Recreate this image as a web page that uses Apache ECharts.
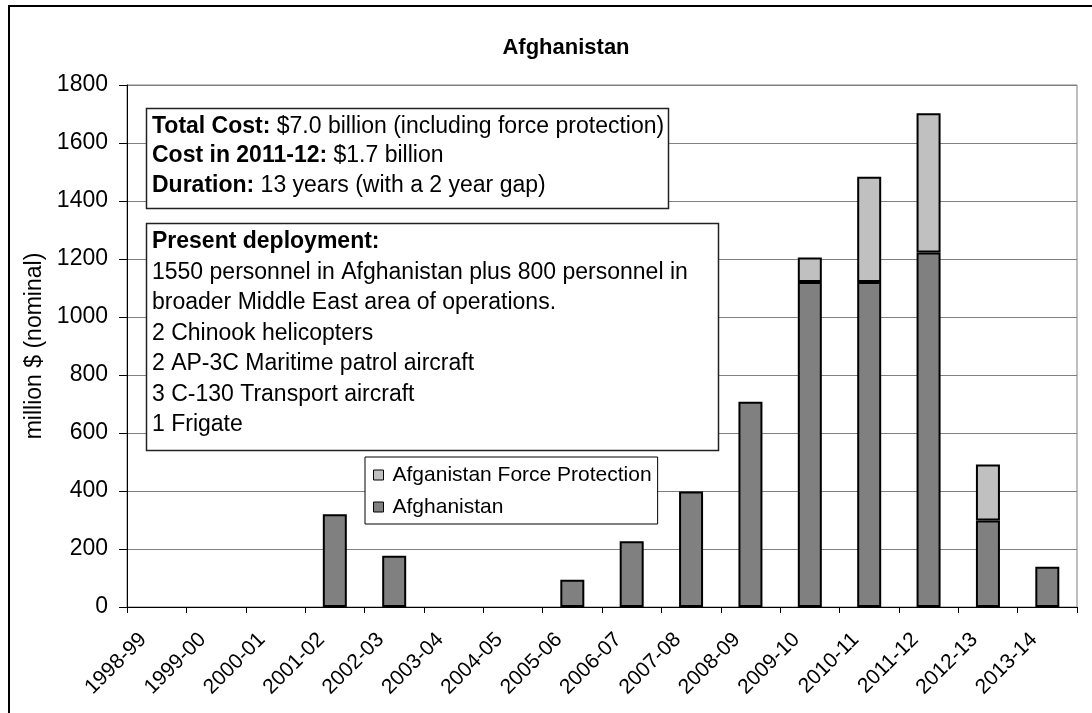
<!DOCTYPE html>
<html>
<head>
<meta charset="utf-8">
<script src="https://cdn.jsdelivr.net/npm/echarts@6/dist/echarts.min.js"></script>
<style>
html,body{margin:0;padding:0;background:#fff;}
#c{width:1092px;height:713px;}
</style>
</head>
<body>
<div id="c"></div>
<script>
var categories = ['1998-99','1999-00','2000-01','2001-02','2002-03','2003-04','2004-05','2005-06','2006-07','2007-08','2008-09','2009-10','2010-11','2011-12','2012-13','2013-14'];
var afghanistan = [0,0,0,320,177,0,0,94,227,398,708,1121,1121,1222,298,139];
var forceProtection = [0,0,0,0,0,0,0,0,0,0,0,84,363,481,193,0];
var yTicks = {min:0, max:1800, interval:200};
var titleText = 'Afghanistan';
var yAxisName = 'million $ (nominal)';
var seriesNames = ['Afghanistan','Afganistan Force Protection'];
var summaryLines = [
  ['Total Cost:', ' $7.0 billion (including force protection)'],
  ['Cost in 2011-12:', ' $1.7 billion'],
  ['Duration:', ' 13 years (with a 2 year gap)']
];
var deploymentHeading = 'Present deployment:';
var deploymentLines = [
  '1550 personnel in Afghanistan plus 800 personnel in',
  'broader Middle East area of operations.',
  '2 Chinook helicopters',
  '2 AP-3C Maritime patrol aircraft',
  '3 C-130 Transport aircraft',
  '1 Frigate'
];

var FONT = '"Liberation Sans", Arial, sans-serif';
var chart = echarts.init(document.getElementById('c'), null, {renderer:'canvas'});

var summaryText = summaryLines.map(function(l){ return '{b|' + l[0] + '}{r|' + l[1] + '}'; }).join('\n');
var deployText = '{b|' + deploymentHeading + '}\n' + deploymentLines.map(function(l){ return '{r|' + l + '}'; }).join('\n');

function nz(arr){ return arr.map(function(v){ return v === 0 ? '-' : v; }); }

var option = {
  animation: false,
  backgroundColor: '#fff',
  textStyle: {fontFamily: FONT},
  grid: {left:127, right:15, top:85, bottom:106, outerBoundsMode:'none', containLabel:false, show:true, borderColor:'#808080', borderWidth:1, backgroundColor:'transparent'},
  legend: {
    orient: 'vertical',
    left: 365, top: 457,
    data: [seriesNames[1], seriesNames[0]],
    backgroundColor: '#fff',
    borderColor: '#000', borderWidth: 1,
    padding: [7, 6, 6, 8],
    itemGap: 10,
    itemWidth: 10, itemHeight: 10,
    icon: 'rect',
    itemStyle: {borderColor:'#000', borderWidth:1},
    textStyle: {fontSize:21, color:'#000', fontFamily:FONT, lineHeight:22, padding:[0,0,0,4]}
  },
  xAxis: {
    type: 'category',
    data: categories,
    boundaryGap: true,
    axisLine: {lineStyle:{color:'#000', width:1}},
    axisTick: {show:true, length:6, lineStyle:{color:'#000'}},
    axisLabel: {rotate:45, fontSize:21, color:'#000', fontFamily:FONT, margin:16, interval:0, padding:[0,19,0,0]},
    splitLine: {show:false}
  },
  yAxis: {
    type: 'value',
    min: yTicks.min, max: yTicks.max, interval: yTicks.interval,
    name: yAxisName,
    nameLocation: 'middle',
    nameGap: 76,
    nameTextStyle: {fontSize:23, color:'#000', fontFamily:FONT},
    axisLine: {show:true, lineStyle:{color:'#000', width:1}},
    axisTick: {show:true, length:8, lineStyle:{color:'#000'}},
    axisLabel: {fontSize:23, color:'#000', fontFamily:FONT, margin:19, formatter: function(v){ return String(v); }},
    splitLine: {show:true, lineStyle:{color:'#808080', width:1}}
  },
  series: [
    {
      name: seriesNames[0], type: 'bar', stack: 'total',
      data: nz(afghanistan),
      barWidth: 24,
      itemStyle: {color:'#808080', borderColor:'#000', borderWidth:2}
    },
    {
      name: seriesNames[1], type: 'bar', stack: 'total',
      data: nz(forceProtection),
      barWidth: 24,
      itemStyle: {color:'#C0C0C0', borderColor:'#000', borderWidth:2}
    }
  ],
  graphic: [
    {type:'rect', silent:true, z:100, shape:{x:9, y:6, width:1200, height:800}, style:{fill:'none', stroke:'#000', lineWidth:2}},
    {type:'text', silent:true, z:100, x:566, y:48, style:{text:titleText, fill:'#000', font:'bold 22px ' + FONT, textAlign:'center', textVerticalAlign:'middle'}},
    {type:'rect', silent:true, z:100, shape:{x:146.5, y:108.5, width:522, height:100}, style:{fill:'#fff', stroke:'#222', lineWidth:1.5}},
    {type:'text', silent:true, z:101, x:152, y:111.5, style:{
      text: summaryText, fill:'#000', lineHeight:29.5,
      rich:{b:{font:'bold 23px ' + FONT, fill:'#000', lineHeight:29.5}, r:{font:'23px ' + FONT, fill:'#000', lineHeight:29.5}}
    }},
    {type:'rect', silent:true, z:100, shape:{x:146.5, y:223.5, width:572, height:227}, style:{fill:'#fff', stroke:'#222', lineWidth:1.5}},
    {type:'text', silent:true, z:101, x:152, y:226.5, style:{
      text: deployText, fill:'#000', lineHeight:30.5,
      rich:{b:{font:'bold 23px ' + FONT, fill:'#000', lineHeight:30.5}, r:{font:'23px ' + FONT, fill:'#000', lineHeight:30.5}}
    }}
  ]
};
chart.setOption(option);
</script>
</body>
</html>
